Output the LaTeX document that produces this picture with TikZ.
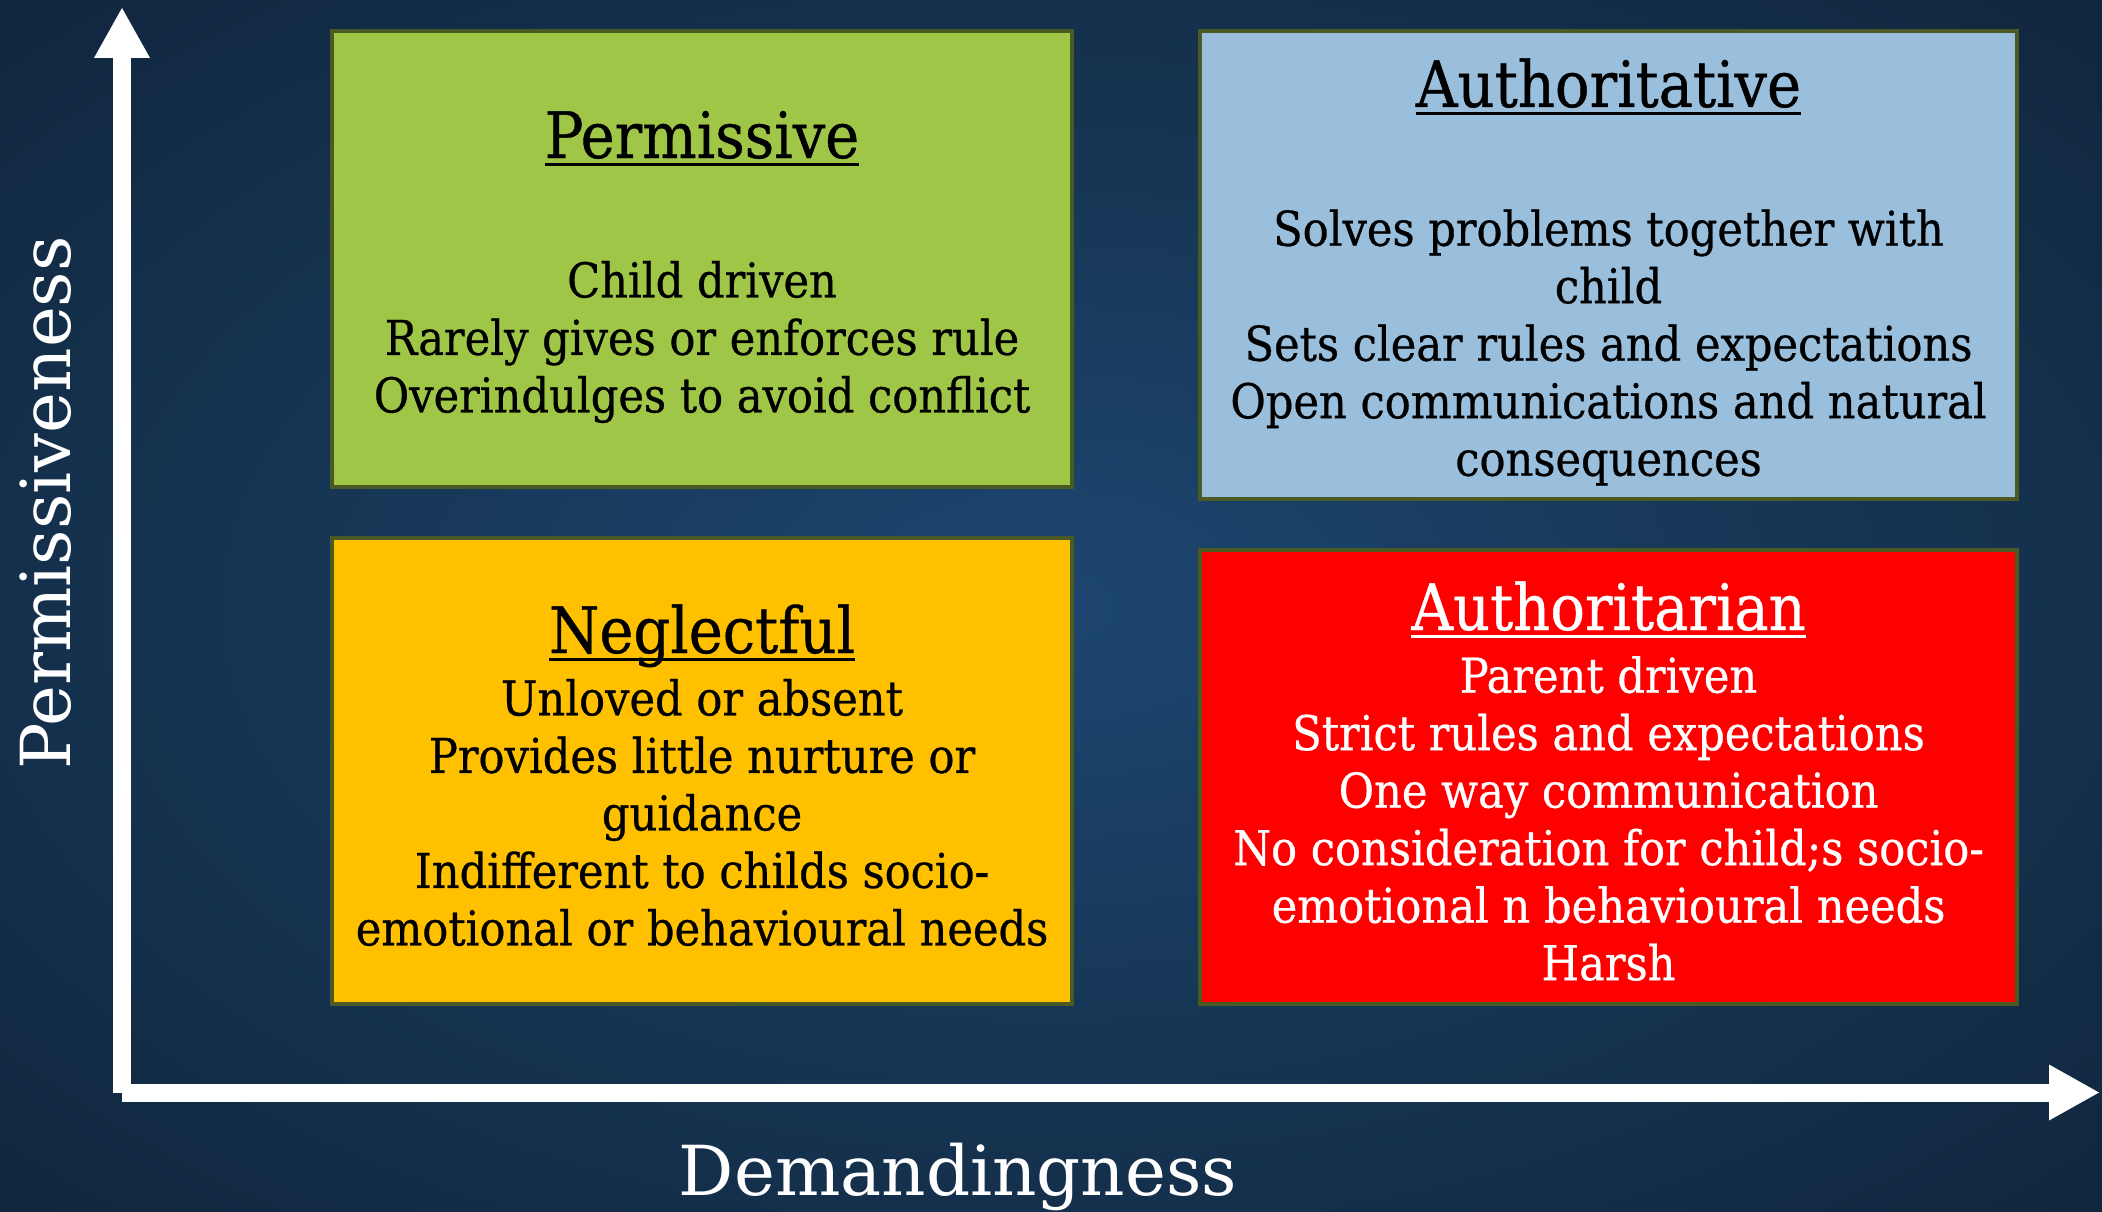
\documentclass[tikz,border=0pt]{standalone}
\usepackage{fontspec}
\setmainfont{DejaVu Serif Condensed}[RawFeature={embolden=0.6}]
\newfontfamily\axisfont{DejaVu Serif}
\usetikzlibrary{arrows.meta}
\definecolor{bgouter}{HTML}{0A1828}
\definecolor{bgmid}{HTML}{15324F}
\definecolor{bginner}{HTML}{1D4670}
\definecolor{qgreen}{HTML}{A0C648}
\definecolor{qblue}{HTML}{9ABFDD}
\definecolor{qyellow}{HTML}{FFC000}
\definecolor{qred}{HTML}{FF0000}
\definecolor{qborder}{HTML}{4A5A22}
\pgfdeclareradialshading{bgshade}{\pgfpoint{0bp}{0bp}}{color(0bp)=(bginner); color(22bp)=(bgmid); color(50bp)=(bgouter)}
\newcommand\ttlul[1]{\setbox0\hbox{#1}\rlap{\rule[-0.13em]{\wd0}{0.05em}}\box0}
\begin{document}
\begin{tikzpicture}[x=1pt,y=-1pt,
  quad/.style={draw=qborder, line width=4pt, inner sep=0pt},
  ttl/.style={font=\fontsize{64}{70}\selectfont, inner sep=0pt, anchor=base},
  body/.style={font=\fontsize{48}{57.5}\selectfont, align=center, inner sep=0pt},
  axisarrow/.style={white, line width=18pt, -{Triangle[width=52pt,length=51pt]}},
  axlbl/.style={white, font=\axisfont\fontsize{69}{72}\selectfont, inner sep=0pt, anchor=base}]
\useasboundingbox (0,0) rectangle (2102,1212);
\shade[shading=bgshade] (0,0) rectangle (2102,1212);

% quadrants
\node[quad, fill=qgreen, minimum width=740pt, minimum height=456pt] (perm) at (702,259) {};
\node[quad, fill=qblue, minimum width=817pt, minimum height=468pt] (auth) at (1608.5,265) {};
\node[quad, fill=qyellow, minimum width=740pt, minimum height=466pt] (negl) at (702,771) {};
\node[quad, fill=qred, minimum width=817pt, minimum height=454pt] (autn) at (1608.5,777) {};

% titles
\node[ttl] (permT) at (702,158) {\ttlul{Permissive}};
\node[ttl] (authT) at (1608.5,107) {\ttlul{Authoritative}};
\node[ttl] (neglT) at (702,653) {\ttlul{Neglectful}};
\node[ttl, text=white] (autnT) at (1608.5,630) {\ttlul{Authoritarian}};

% bodies
\node[body] (permB) at (702,342) {Child driven\\Rarely gives or enforces rule\\Overindulges to avoid conflict};
\node[body] (authB) at (1608.5,347.5) {Solves problems together with\\child\\Sets clear rules and expectations\\Open communications and natural\\consequences};
\node[body] (neglB) at (702,812.5) {Unloved or absent\\Provides little nurture or\\guidance\\Indifferent to childs socio-\\emotional or behavioural needs};
\node[body, text=white] (autnB) at (1608.5,818.5) {Parent driven\\Strict rules and expectations\\One way communication\\No consideration for child;s socio-\\emotional n behavioural needs\\Harsh};

% axes
\coordinate (yorig) at (122,1093);
\coordinate (ytip) at (122,7);
\coordinate (xorig) at (122,1092.5);
\coordinate (xtip) at (2100,1092.5);
\draw[axisarrow] (yorig) -- (ytip);
\draw[axisarrow] (xorig) -- (xtip);

\node[axlbl, rotate=90] (ylab) at (70,503) {Permissiveness};
\node[axlbl] (xlab) at (958,1195) {Demandingness};
\end{tikzpicture}
\end{document}
